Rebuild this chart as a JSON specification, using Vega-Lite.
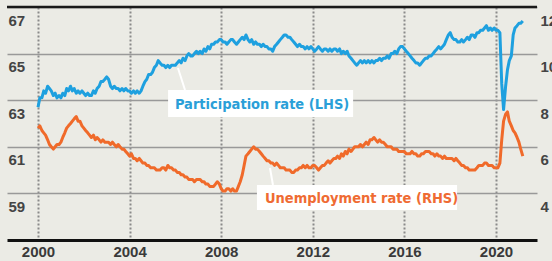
{
"$schema":"https://vega.github.io/schema/vega-lite/v6.json",
"width":530,"height":233,"autosize":"none",
"padding":{"left":7,"top":7,"right":15,"bottom":21},
"background":"#ebebe5",
"config":{"view":{"stroke":null},"axis":{"labelFont":"Liberation Sans","labelFontWeight":"bold","labelFontSize":15,"labelColor":"#444444","title":null}},
"data":{"values":[
{"t":2000.00,"p":62.7,"u":6.8},{"t":2000.08,"p":63.1,"u":6.9},{"t":2000.17,"p":63.1,"u":6.7},{"t":2000.25,"p":63.4,"u":6.6},{"t":2000.33,"p":63.3,"u":6.5},{"t":2000.42,"p":63.6,"u":6.3},{"t":2000.50,"p":63.5,"u":6.1},{"t":2000.58,"p":63.4,"u":6.0},{"t":2000.67,"p":63.2,"u":5.9},{"t":2000.75,"p":63.3,"u":6.0},{"t":2000.83,"p":63.1,"u":6.1},{"t":2000.92,"p":63.2,"u":6.1},
{"t":2001.00,"p":63.1,"u":6.2},{"t":2001.08,"p":63.3,"u":6.4},{"t":2001.17,"p":63.2,"u":6.6},{"t":2001.25,"p":63.5,"u":6.8},{"t":2001.33,"p":63.4,"u":6.9},{"t":2001.42,"p":63.6,"u":7.0},{"t":2001.50,"p":63.4,"u":7.1},{"t":2001.58,"p":63.5,"u":7.2},{"t":2001.67,"p":63.3,"u":7.3},{"t":2001.75,"p":63.4,"u":7.1},{"t":2001.83,"p":63.3,"u":7.1},{"t":2001.92,"p":63.4,"u":6.9},
{"t":2002.00,"p":63.3,"u":6.8},{"t":2002.08,"p":63.2,"u":6.7},{"t":2002.17,"p":63.3,"u":6.6},{"t":2002.25,"p":63.2,"u":6.5},{"t":2002.33,"p":63.2,"u":6.4},{"t":2002.42,"p":63.4,"u":6.5},{"t":2002.50,"p":63.3,"u":6.3},{"t":2002.58,"p":63.5,"u":6.4},{"t":2002.67,"p":63.6,"u":6.3},{"t":2002.75,"p":63.8,"u":6.2},{"t":2002.83,"p":63.8,"u":6.3},{"t":2002.92,"p":63.9,"u":6.2},
{"t":2003.00,"p":64.0,"u":6.2},{"t":2003.08,"p":63.9,"u":6.2},{"t":2003.17,"p":63.6,"u":6.1},{"t":2003.25,"p":63.5,"u":6.2},{"t":2003.33,"p":63.6,"u":6.1},{"t":2003.42,"p":63.5,"u":6.0},{"t":2003.50,"p":63.5,"u":6.1},{"t":2003.58,"p":63.4,"u":6.0},{"t":2003.67,"p":63.5,"u":5.9},{"t":2003.75,"p":63.4,"u":5.9},{"t":2003.83,"p":63.5,"u":5.8},{"t":2003.92,"p":63.4,"u":5.7},
{"t":2004.00,"p":63.4,"u":5.6},{"t":2004.08,"p":63.3,"u":5.7},{"t":2004.17,"p":63.4,"u":5.5},{"t":2004.25,"p":63.3,"u":5.5},{"t":2004.33,"p":63.4,"u":5.4},{"t":2004.42,"p":63.3,"u":5.5},{"t":2004.50,"p":63.4,"u":5.4},{"t":2004.58,"p":63.6,"u":5.3},{"t":2004.67,"p":63.8,"u":5.3},{"t":2004.75,"p":63.9,"u":5.2},{"t":2004.83,"p":64.1,"u":5.2},{"t":2004.92,"p":64.1,"u":5.1},
{"t":2005.00,"p":64.2,"u":5.1},{"t":2005.08,"p":64.4,"u":5.1},{"t":2005.17,"p":64.5,"u":5.0},{"t":2005.25,"p":64.7,"u":5.0},{"t":2005.33,"p":64.6,"u":5.0},{"t":2005.42,"p":64.5,"u":5.1},{"t":2005.50,"p":64.5,"u":5.1},{"t":2005.58,"p":64.4,"u":5.0},{"t":2005.67,"p":64.5,"u":5.2},{"t":2005.75,"p":64.4,"u":5.1},{"t":2005.83,"p":64.5,"u":5.1},{"t":2005.92,"p":64.5,"u":5.0},
{"t":2006.00,"p":64.5,"u":5.0},{"t":2006.08,"p":64.6,"u":4.9},{"t":2006.17,"p":64.7,"u":4.9},{"t":2006.25,"p":64.6,"u":4.8},{"t":2006.33,"p":64.8,"u":4.8},{"t":2006.42,"p":64.7,"u":4.7},{"t":2006.50,"p":64.9,"u":4.7},{"t":2006.58,"p":65.0,"u":4.6},{"t":2006.67,"p":64.9,"u":4.6},{"t":2006.75,"p":64.9,"u":4.6},{"t":2006.83,"p":65.0,"u":4.5},{"t":2006.92,"p":65.1,"u":4.6},
{"t":2007.00,"p":65.0,"u":4.6},{"t":2007.08,"p":65.1,"u":4.6},{"t":2007.17,"p":65.0,"u":4.5},{"t":2007.25,"p":65.2,"u":4.5},{"t":2007.33,"p":65.1,"u":4.4},{"t":2007.42,"p":65.3,"u":4.4},{"t":2007.50,"p":65.2,"u":4.3},{"t":2007.58,"p":65.4,"u":4.3},{"t":2007.67,"p":65.4,"u":4.3},{"t":2007.75,"p":65.5,"u":4.4},{"t":2007.83,"p":65.5,"u":4.5},{"t":2007.92,"p":65.6,"u":4.4},
{"t":2008.00,"p":65.6,"u":4.2},{"t":2008.08,"p":65.5,"u":4.1},{"t":2008.17,"p":65.5,"u":4.1},{"t":2008.25,"p":65.4,"u":4.2},{"t":2008.33,"p":65.5,"u":4.2},{"t":2008.42,"p":65.6,"u":4.1},{"t":2008.50,"p":65.6,"u":4.2},{"t":2008.58,"p":65.5,"u":4.1},{"t":2008.67,"p":65.4,"u":4.1},{"t":2008.75,"p":65.5,"u":4.3},{"t":2008.83,"p":65.6,"u":4.5},{"t":2008.92,"p":65.7,"u":4.8},
{"t":2009.00,"p":65.6,"u":5.2},{"t":2009.08,"p":65.8,"u":5.6},{"t":2009.17,"p":65.6,"u":5.7},{"t":2009.25,"p":65.5,"u":5.8},{"t":2009.33,"p":65.6,"u":5.9},{"t":2009.42,"p":65.4,"u":6.0},{"t":2009.50,"p":65.5,"u":5.9},{"t":2009.58,"p":65.4,"u":5.9},{"t":2009.67,"p":65.4,"u":5.8},{"t":2009.75,"p":65.3,"u":5.7},{"t":2009.83,"p":65.4,"u":5.6},{"t":2009.92,"p":65.3,"u":5.5},
{"t":2010.00,"p":65.3,"u":5.4},{"t":2010.08,"p":65.2,"u":5.4},{"t":2010.17,"p":65.2,"u":5.3},{"t":2010.25,"p":65.1,"u":5.3},{"t":2010.33,"p":65.3,"u":5.2},{"t":2010.42,"p":65.4,"u":5.3},{"t":2010.50,"p":65.5,"u":5.2},{"t":2010.58,"p":65.6,"u":5.1},{"t":2010.67,"p":65.7,"u":5.1},{"t":2010.75,"p":65.8,"u":5.1},{"t":2010.83,"p":65.8,"u":5.0},{"t":2010.92,"p":65.7,"u":5.0},
{"t":2011.00,"p":65.7,"u":5.0},{"t":2011.08,"p":65.6,"u":4.9},{"t":2011.17,"p":65.5,"u":4.9},{"t":2011.25,"p":65.4,"u":5.0},{"t":2011.33,"p":65.3,"u":5.0},{"t":2011.42,"p":65.4,"u":5.1},{"t":2011.50,"p":65.3,"u":5.1},{"t":2011.58,"p":65.3,"u":5.2},{"t":2011.67,"p":65.2,"u":5.1},{"t":2011.75,"p":65.3,"u":5.2},{"t":2011.83,"p":65.2,"u":5.1},{"t":2011.92,"p":65.3,"u":5.1},
{"t":2012.00,"p":65.2,"u":5.2},{"t":2012.08,"p":65.1,"u":5.2},{"t":2012.17,"p":65.2,"u":5.1},{"t":2012.25,"p":65.3,"u":5.0},{"t":2012.33,"p":65.2,"u":5.1},{"t":2012.42,"p":65.1,"u":5.2},{"t":2012.50,"p":65.2,"u":5.2},{"t":2012.58,"p":65.2,"u":5.3},{"t":2012.67,"p":65.1,"u":5.4},{"t":2012.75,"p":65.2,"u":5.3},{"t":2012.83,"p":65.1,"u":5.4},{"t":2012.92,"p":65.2,"u":5.5},
{"t":2013.00,"p":65.2,"u":5.5},{"t":2013.08,"p":65.1,"u":5.6},{"t":2013.17,"p":65.2,"u":5.5},{"t":2013.25,"p":65.0,"u":5.7},{"t":2013.33,"p":65.1,"u":5.6},{"t":2013.42,"p":65.0,"u":5.8},{"t":2013.50,"p":65.1,"u":5.7},{"t":2013.58,"p":64.9,"u":5.9},{"t":2013.67,"p":64.8,"u":5.8},{"t":2013.75,"p":64.7,"u":5.9},{"t":2013.83,"p":64.6,"u":6.0},{"t":2013.92,"p":64.5,"u":6.0},
{"t":2014.00,"p":64.6,"u":6.0},{"t":2014.08,"p":64.7,"u":6.1},{"t":2014.17,"p":64.6,"u":6.0},{"t":2014.25,"p":64.7,"u":6.1},{"t":2014.33,"p":64.6,"u":6.2},{"t":2014.42,"p":64.7,"u":6.1},{"t":2014.50,"p":64.6,"u":6.3},{"t":2014.58,"p":64.7,"u":6.3},{"t":2014.67,"p":64.6,"u":6.4},{"t":2014.75,"p":64.7,"u":6.3},{"t":2014.83,"p":64.7,"u":6.2},{"t":2014.92,"p":64.8,"u":6.3},
{"t":2015.00,"p":64.7,"u":6.2},{"t":2015.08,"p":64.8,"u":6.2},{"t":2015.17,"p":64.8,"u":6.1},{"t":2015.25,"p":64.9,"u":6.0},{"t":2015.33,"p":64.8,"u":6.0},{"t":2015.42,"p":65.0,"u":6.0},{"t":2015.50,"p":65.0,"u":5.9},{"t":2015.58,"p":65.1,"u":5.9},{"t":2015.67,"p":65.0,"u":5.9},{"t":2015.75,"p":65.2,"u":5.8},{"t":2015.83,"p":65.3,"u":5.8},{"t":2015.92,"p":65.3,"u":5.8},
{"t":2016.00,"p":65.2,"u":5.8},{"t":2016.08,"p":65.1,"u":5.7},{"t":2016.17,"p":65.0,"u":5.7},{"t":2016.25,"p":64.9,"u":5.7},{"t":2016.33,"p":64.8,"u":5.8},{"t":2016.42,"p":64.7,"u":5.7},{"t":2016.50,"p":64.6,"u":5.7},{"t":2016.58,"p":64.6,"u":5.6},{"t":2016.67,"p":64.5,"u":5.6},{"t":2016.75,"p":64.6,"u":5.7},{"t":2016.83,"p":64.7,"u":5.7},{"t":2016.92,"p":64.8,"u":5.8},
{"t":2017.00,"p":64.8,"u":5.8},{"t":2017.08,"p":64.9,"u":5.8},{"t":2017.17,"p":64.9,"u":5.7},{"t":2017.25,"p":65.0,"u":5.7},{"t":2017.33,"p":65.1,"u":5.6},{"t":2017.42,"p":65.2,"u":5.7},{"t":2017.50,"p":65.3,"u":5.6},{"t":2017.58,"p":65.2,"u":5.6},{"t":2017.67,"p":65.3,"u":5.5},{"t":2017.75,"p":65.4,"u":5.6},{"t":2017.83,"p":65.6,"u":5.5},{"t":2017.92,"p":65.8,"u":5.5},
{"t":2018.00,"p":65.9,"u":5.5},{"t":2018.08,"p":65.7,"u":5.5},{"t":2018.17,"p":65.6,"u":5.4},{"t":2018.25,"p":65.6,"u":5.5},{"t":2018.33,"p":65.5,"u":5.4},{"t":2018.42,"p":65.5,"u":5.3},{"t":2018.50,"p":65.6,"u":5.2},{"t":2018.58,"p":65.5,"u":5.2},{"t":2018.67,"p":65.6,"u":5.1},{"t":2018.75,"p":65.7,"u":5.1},{"t":2018.83,"p":65.6,"u":5.0},{"t":2018.92,"p":65.8,"u":5.0},
{"t":2019.00,"p":65.8,"u":5.0},{"t":2019.08,"p":65.7,"u":5.0},{"t":2019.17,"p":65.9,"u":5.1},{"t":2019.25,"p":65.9,"u":5.2},{"t":2019.33,"p":66.0,"u":5.2},{"t":2019.42,"p":66.0,"u":5.2},{"t":2019.50,"p":66.1,"u":5.3},{"t":2019.58,"p":66.2,"u":5.3},{"t":2019.67,"p":66.0,"u":5.2},{"t":2019.75,"p":66.1,"u":5.2},{"t":2019.83,"p":66.0,"u":5.2},{"t":2019.92,"p":66.1,"u":5.1},
{"t":2020.00,"p":66.0,"u":5.1},{"t":2020.08,"p":66.0,"u":5.1},{"t":2020.17,"p":65.9,"u":5.3},{"t":2020.25,"p":63.7,"u":6.3},{"t":2020.33,"p":62.6,"u":7.1},{"t":2020.42,"p":63.6,"u":7.4},{"t":2020.50,"p":64.3,"u":7.5},{"t":2020.58,"p":64.7,"u":7.1},{"t":2020.67,"p":64.9,"u":6.9},{"t":2020.75,"p":65.8,"u":6.7},{"t":2020.83,"p":66.1,"u":6.6},{"t":2020.92,"p":66.2,"u":6.4},
{"t":2021.00,"p":66.3,"u":6.2},{"t":2021.08,"p":66.3,"u":5.9},{"t":2021.17,"p":66.4,"u":5.6}
]},
"layer":[
{"layer":[
{"mark":{"type":"line","color":"#1ea0df","strokeWidth":3,"strokeJoin":"round"},
 "encoding":{
  "x":{"field":"t","type":"quantitative","scale":{"domain":[1998.646,2021.79],"nice":false,"zero":false},
   "axis":{"values":[2000,2004,2008,2012,2016,2020],"format":"d","grid":true,"gridDash":[2,2],"gridColor":"#8a8a8a","gridWidth":2,"domainColor":"#111111","domainWidth":3,"ticks":false,"labelPadding":4,"labelColor":"#3a3a3a"}},
  "y":{"field":"p","type":"quantitative","scale":{"domain":[57,67],"nice":false,"zero":false},
   "axis":{"values":[59,61,63,65,67],"grid":true,"gridColor":"#999999","gridWidth":1.5,"domain":false,"ticks":false,"labelAlign":"left","labelBaseline":"middle","labelOffset":13,"labelPadding":-1}}}},
{"data":{"values":[{"v":67}]},"mark":{"type":"rule","color":"#1a1a1a","strokeWidth":2.5},
 "encoding":{"y":{"field":"v","type":"quantitative"}}},
{"data":{"values":[{"x1":2005.68,"x2":2013.76,"y1":63.44,"y2":62.28},{"x1":2009.56,"x2":2018.30,"y1":59.36,"y2":58.29}]},
 "mark":{"type":"rect","color":"#ffffff"},
 "encoding":{"x":{"field":"x1","type":"quantitative"},"x2":{"field":"x2"},"y":{"field":"y1","type":"quantitative"},"y2":{"field":"y2"}}},
{"data":{"values":[{"x1":2006.11,"y1":64.38,"x2":2006.42,"y2":63.44},{"x1":2010.13,"y1":60.09,"x2":2010.26,"y2":59.36}]},
 "mark":{"type":"rule","color":"#ffffff","strokeWidth":2},
 "encoding":{"x":{"field":"x1","type":"quantitative"},"x2":{"field":"x2"},"y":{"field":"y1","type":"quantitative"},"y2":{"field":"y2"}}},
{"data":{"values":[{"x":2005.98,"y":62.78,"label":"Participation rate (LHS)","c":"LHS"},{"x":2009.91,"y":58.74,"label":"Unemployment rate (RHS)","c":"RHS"}]},
 "mark":{"type":"text","align":"left","baseline":"middle","font":"Liberation Sans Narrow, DejaVu Sans Condensed, Roboto Condensed, sans-serif","fontSize":14.5,"fontWeight":"bold"},
 "encoding":{"x":{"field":"x","type":"quantitative"},"y":{"field":"y","type":"quantitative"},"text":{"field":"label"},
  "color":{"field":"c","type":"nominal","scale":{"domain":["LHS","RHS"],"range":["#2a9fd8","#ef6b33"]},"legend":null}}}
]},
{"mark":{"type":"line","color":"#f06a2a","strokeWidth":3,"strokeJoin":"round"},
 "encoding":{
  "x":{"field":"t","type":"quantitative"},
  "y":{"field":"u","type":"quantitative","scale":{"domain":[2,12],"nice":false,"zero":false},
   "axis":{"orient":"right","values":[4,6,8,10,12],"grid":false,"domain":false,"ticks":false,"labelAlign":"left","labelBaseline":"middle","labelOffset":13,"labelPadding":3}}}}
],
"resolve":{"scale":{"y":"independent"},"axis":{"y":"independent"}}
}
